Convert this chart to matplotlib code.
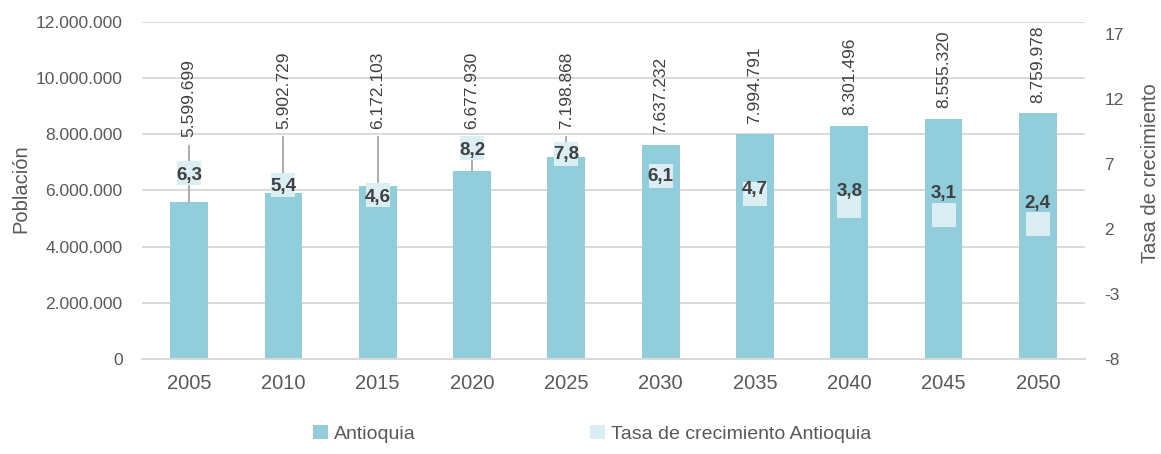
import matplotlib.pyplot as plt
from matplotlib.patches import Patch

# Datos
years = ["2005", "2010", "2015", "2020", "2025", "2030", "2035", "2040", "2045", "2050"]
population = [5599699, 5902729, 6172103, 6677930, 7198868, 7637232, 7994791, 8301496, 8555320, 8759978]
growth = [6.3, 5.4, 4.6, 8.2, 7.8, 6.1, 4.7, 3.8, 3.1, 2.4]
left_ticks = [0, 2000000, 4000000, 6000000, 8000000, 10000000, 12000000]
right_ticks = [-8, -3, 2, 7, 12, 17]

# estilo / posiciones de etiquetas
lifted_label = [7.9e6, 8.2e6, 8.2e6, 8.2e6, 8.2e6, None, None, None, None, None]
growth_label_dy = [2, 2, 2, 2, 1, 1, -4, -14, -21, -20]  # px, positivo hacia abajo

BAR = "#92CDDC"
RATE = "#DAEEF3"
TXT = "#595959"
GRID = "#D9D9D9"

plt.rcParams["font.family"] = ["Liberation Sans", "DejaVu Sans"]
plt.rcParams["axes.unicode_minus"] = False

W, H = 1161, 454
fig = plt.figure(figsize=(W / 100, H / 100), dpi=100)
ax = fig.add_axes([142 / W, 1 - 359 / H, (1085 - 142) / W, (359 - 22) / H])

x = list(range(len(years)))
ax.bar(x, population, width=0.4, color=BAR, zorder=2)
ax.set_xlim(-0.5, len(years) - 0.5)
ax.set_ylim(0, 12000000)
ax.set_yticks(left_ticks)
ax.set_yticklabels([f"{v:,}".replace(",", ".") for v in left_ticks])
ax.set_xticks(x)
ax.set_xticklabels(years)
ax.yaxis.grid(True, color=GRID, lw=1.4, zorder=0)
ax.set_axisbelow(True)
for s in ["top", "right", "left"]:
    ax.spines[s].set_visible(False)
ax.spines["bottom"].set_color(GRID)
ax.spines["bottom"].set_linewidth(1.4)
ax.tick_params(axis="y", length=0, pad=14, labelsize=12.5, labelcolor=TXT)
ax.tick_params(axis="x", length=0, pad=11, labelsize=14.5, labelcolor=TXT)

# etiquetas de poblacion con lineas guia
for i, v in enumerate(population):
    base = lifted_label[i] if lifted_label[i] is not None else v + 0.37e6
    ax.text(i, base, f"{v:,}".replace(",", "."), rotation=90, ha="center", va="bottom",
            fontsize=12.5, color="#404040", zorder=5)
    if lifted_label[i] is not None:
        ax.plot([i, i], [base - 0.3e6, v], color="#A6A6A6", lw=1.3, zorder=3)

# eje secundario: tasa de crecimiento
ax2 = ax.twinx()
ax2.set_ylim(-8, 17 + 12 / 13)
ax2.set_yticks(right_ticks)
for s in ax2.spines.values():
    s.set_visible(False)
ax2.tick_params(axis="y", length=0, pad=14, labelsize=12.5, labelcolor=TXT)
ax2.plot(x, growth, linestyle="none", marker="s", markersize=17, color=RATE,
         markeredgewidth=0, zorder=4)
for i, g in enumerate(growth):
    ax2.annotate(f"{g:.1f}".replace(".", ","), (i, g), xytext=(0, -growth_label_dy[i] * 0.72),
                 textcoords="offset points", ha="center", va="center", fontsize=13.5,
                 fontweight="bold", color="#404040", zorder=6)

fig.text(21 / W, 1 - 189 / H, "Población", rotation=90, ha="center", va="center",
         fontsize=14.5, color=TXT)
fig.text(1150 / W, 1 - 173 / H, "Tasa de crecimiento", rotation=90, ha="center", va="center",
         fontsize=14.5, color=TXT)

handles = [Patch(facecolor=BAR, edgecolor="none"), Patch(facecolor=RATE, edgecolor="none")]
fig.legend(handles, ["Antioquia", "Tasa de crecimiento Antioquia"], loc="center",
           bbox_to_anchor=(592 / W, 1 - 434 / H), ncol=2, frameon=False, fontsize=14,
           labelcolor=TXT, handlelength=0.75, handleheight=0.75, handletextpad=0.3,
           columnspacing=9)

fig.savefig("out.png", dpi=100)
